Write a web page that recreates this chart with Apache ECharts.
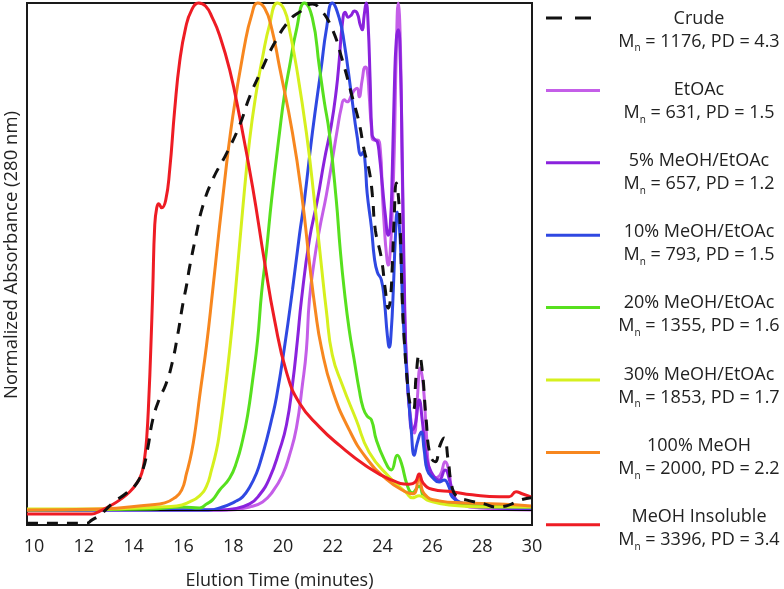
<!DOCTYPE html>
<html><head><meta charset="utf-8">
<script src="https://cdn.jsdelivr.net/npm/echarts@6/dist/echarts.min.js"></script>
<style>html,body{margin:0;padding:0;background:#fff}#c{width:784px;height:589px}</style>
</head><body><div id="c"></div>
<script>
// ---- data (elution time in minutes, normalized absorbance) ----
const xTickLabels = [10, 12, 14, 16, 18, 20, 22, 24, 26, 28, 30];

const seriesNames = ['Crude', 'EtOAc', '5% MeOH/EtOAc', '10% MeOH/EtOAc', '20% MeOH/EtOAc', '30% MeOH/EtOAc', '100% MeOH', 'MeOH Insoluble'];
const mnValues = [1176, 631, 657, 793, 1355, 1853, 2000, 3396];
const pdValues = ['4.3', '1.5', '1.2', '1.5', '1.6', '1.7', '2.2', '3.4'];

const crude = [[9.72,-0.026],[12.12,-0.026],[12.32,-0.020],[12.65,-0.010],[13.17,0.014],[13.73,0.034],[14.13,0.053],[14.37,0.079],[14.57,0.122],[14.77,0.178],[15.05,0.221],[15.29,0.247],[15.53,0.286],[15.77,0.345],[15.97,0.404],[16.13,0.444],[16.25,0.479],[16.53,0.546],[16.77,0.598],[17.17,0.651],[17.74,0.704],[18.26,0.759],[18.66,0.815],[19.14,0.868],[19.66,0.921],[20.26,0.966],[20.66,0.982],[21.18,0.998],[21.46,0.990],[21.94,0.953],[22.38,0.888],[22.78,0.815],[23.06,0.763],[23.26,0.710],[23.47,0.667],[23.59,0.621],[23.71,0.552],[23.95,0.497],[24.11,0.434],[24.23,0.398],[24.31,0.414],[24.39,0.483],[24.47,0.582],[24.55,0.645],[24.63,0.621],[24.71,0.552],[24.79,0.414],[24.87,0.335],[24.99,0.256],[25.11,0.207],[25.23,0.197],[25.35,0.266],[25.47,0.306],[25.59,0.276],[25.75,0.178],[25.91,0.108],[26.11,0.095],[26.31,0.128],[26.47,0.142],[26.63,0.099],[26.79,0.045],[26.99,0.026],[27.35,0.020],[28.08,0.012],[28.56,0.006],[28.96,0.008],[29.28,0.014],[29.56,0.020],[29.96,0.024]];

const etoac = [[9.72,0],[17.86,0],[18.66,0.006],[19.18,0.016],[19.58,0.036],[19.98,0.069],[20.26,0.108],[20.54,0.162],[20.78,0.247],[20.94,0.316],[21.06,0.414],[21.26,0.493],[21.46,0.552],[21.74,0.621],[21.98,0.690],[22.18,0.750],[22.34,0.793],[22.46,0.809],[22.58,0.805],[22.74,0.817],[22.86,0.828],[22.98,0.832],[23.06,0.815],[23.18,0.848],[23.30,0.874],[23.38,0.868],[23.46,0.819],[23.55,0.755],[23.63,0.730],[23.79,0.730],[23.91,0.710],[23.99,0.625],[24.07,0.558],[24.15,0.507],[24.23,0.483],[24.31,0.513],[24.39,0.592],[24.47,0.710],[24.55,0.903],[24.63,1.0],[24.71,0.927],[24.79,0.671],[24.87,0.414],[24.99,0.256],[25.11,0.187],[25.27,0.152],[25.39,0.217],[25.51,0.280],[25.63,0.247],[25.75,0.158],[25.87,0.079],[26.07,0.063],[26.31,0.069],[26.51,0.095],[26.67,0.075],[26.79,0.039],[27.07,0.016],[27.88,0.004],[29.96,0.0]];

const meoh5 = [[9.72,0],[17.5,0],[17.98,0.002],[18.66,0.012],[19.06,0.030],[19.46,0.063],[19.86,0.118],[20.14,0.168],[20.38,0.247],[20.58,0.335],[20.74,0.414],[21.06,0.533],[21.38,0.611],[21.66,0.690],[21.94,0.759],[22.14,0.828],[22.26,0.888],[22.38,0.957],[22.50,0.982],[22.62,0.972],[22.74,0.976],[22.86,0.984],[22.98,0.980],[23.10,0.957],[23.18,0.947],[23.26,0.976],[23.34,1.0],[23.42,0.957],[23.50,0.848],[23.58,0.740],[23.70,0.730],[23.79,0.726],[23.87,0.700],[23.99,0.641],[24.11,0.582],[24.23,0.542],[24.31,0.562],[24.39,0.671],[24.47,0.828],[24.55,0.927],[24.63,0.947],[24.71,0.888],[24.79,0.690],[24.87,0.454],[24.95,0.296],[25.07,0.207],[25.19,0.158],[25.31,0.168],[25.47,0.217],[25.59,0.178],[25.75,0.108],[25.95,0.075],[26.27,0.059],[26.51,0.079],[26.71,0.055],[26.87,0.026],[27.27,0.010],[29.96,0.002]];

const meoh10 = [[9.72,0],[17.0,0],[17.57,0.006],[18.06,0.016],[18.38,0.026],[18.66,0.045],[18.94,0.073],[19.14,0.103],[19.34,0.138],[19.54,0.178],[19.74,0.223],[20.06,0.321],[20.38,0.434],[20.66,0.542],[20.86,0.611],[21.18,0.744],[21.54,0.874],[21.74,0.947],[21.98,1.0],[22.26,0.970],[22.46,0.921],[22.74,0.822],[22.98,0.736],[23.14,0.700],[23.22,0.706],[23.30,0.684],[23.38,0.625],[23.55,0.558],[23.67,0.497],[23.79,0.469],[23.95,0.454],[24.07,0.414],[24.19,0.345],[24.27,0.321],[24.35,0.355],[24.43,0.434],[24.51,0.533],[24.59,0.588],[24.67,0.562],[24.75,0.483],[24.83,0.375],[24.99,0.256],[25.15,0.158],[25.27,0.108],[25.39,0.132],[25.55,0.154],[25.67,0.118],[25.79,0.079],[25.99,0.065],[26.27,0.055],[26.47,0.059],[26.67,0.045],[26.79,0.026],[27.19,0.014],[27.88,0.006],[29.96,0.004]];

const meoh20 = [[9.72,0],[14.65,0.002],[15.97,0.006],[16.65,0.004],[16.93,0.012],[17.17,0.020],[17.45,0.039],[17.86,0.063],[18.14,0.095],[18.38,0.138],[18.58,0.187],[18.78,0.256],[18.98,0.335],[19.14,0.428],[19.34,0.513],[19.54,0.611],[19.86,0.744],[20.06,0.819],[20.26,0.874],[20.54,0.947],[20.86,1.0],[21.18,0.970],[21.46,0.874],[21.66,0.805],[21.86,0.744],[22.14,0.611],[22.30,0.513],[22.46,0.434],[22.66,0.355],[22.86,0.296],[23.06,0.237],[23.22,0.201],[23.38,0.185],[23.55,0.178],[23.75,0.138],[24.07,0.099],[24.35,0.079],[24.59,0.108],[24.75,0.093],[24.99,0.049],[25.19,0.034],[25.47,0.047],[25.67,0.026],[26.15,0.016],[27.07,0.010],[29.96,0.006]];

const meoh30 = [[9.72,0.002],[12.65,0.002],[15.05,0.006],[15.73,0.008],[16.25,0.016],[16.65,0.028],[16.93,0.047],[17.13,0.079],[17.33,0.118],[17.45,0.152],[17.65,0.226],[17.86,0.316],[18.06,0.414],[18.38,0.592],[18.66,0.730],[18.94,0.828],[19.18,0.893],[19.46,0.957],[19.78,1.0],[20.06,0.986],[20.26,0.947],[20.54,0.874],[20.94,0.744],[21.26,0.611],[21.54,0.483],[21.74,0.394],[21.98,0.306],[22.38,0.247],[22.94,0.178],[23.46,0.114],[24.27,0.065],[24.95,0.034],[25.19,0.024],[25.47,0.028],[25.87,0.018],[26.67,0.010],[28.68,0.006],[29.96,0.006]];

const meoh100 = [[9.72,0.0],[12.65,0.002],[14.65,0.010],[15.25,0.014],[15.65,0.024],[15.93,0.039],[16.13,0.073],[16.33,0.114],[16.49,0.162],[16.65,0.223],[16.93,0.325],[17.17,0.430],[17.57,0.611],[17.98,0.775],[18.46,0.917],[18.74,0.976],[18.98,1.0],[19.26,0.990],[19.54,0.951],[19.86,0.874],[20.38,0.744],[20.78,0.611],[21.06,0.489],[21.30,0.394],[21.54,0.321],[21.98,0.237],[22.66,0.158],[23.34,0.103],[24.15,0.061],[24.87,0.037],[25.23,0.032],[25.47,0.065],[25.67,0.032],[26.27,0.018],[27.27,0.014],[28.68,0.012],[29.96,0.008]];

const insoluble = [[9.72,-0.008],[12.32,-0.008],[12.65,-0.002],[13.05,0.008],[13.45,0.020],[13.85,0.036],[14.13,0.053],[14.33,0.073],[14.45,0.105],[14.53,0.144],[14.61,0.217],[14.69,0.316],[14.77,0.434],[14.85,0.562],[14.93,0.596],[15.01,0.604],[15.13,0.596],[15.29,0.611],[15.45,0.671],[15.65,0.789],[15.85,0.884],[16.09,0.951],[16.33,0.986],[16.61,1.0],[16.89,0.994],[17.17,0.970],[17.45,0.937],[17.86,0.868],[18.26,0.775],[18.78,0.637],[19.26,0.489],[19.66,0.375],[20.14,0.272],[20.66,0.211],[21.46,0.164],[22.26,0.128],[23.34,0.087],[24.27,0.061],[25.07,0.051],[25.31,0.055],[25.47,0.071],[25.63,0.053],[25.99,0.041],[26.79,0.036],[27.60,0.030],[28.68,0.026],[29.08,0.026],[29.36,0.036],[29.60,0.032],[29.96,0.026]];

const seriesData = [crude, etoac, meoh5, meoh10, meoh20, meoh30, meoh100, insoluble];

// ---- styles ----
const colors = ['#111111', '#c45ee8', '#8a22dd', '#2f48e2', '#57e01e', '#d6f01e', '#f7871f', '#ee1c24'];
const drawZ = [10, 2, 3, 4, 5, 6, 7, 8];
const FONT = 'Open Sans';

const chart = echarts.init(document.getElementById('c'), null, {renderer: 'canvas'});

const series = seriesData.map((d, i) => ({
  name: seriesNames[i],
  type: 'line',
  data: d,
  z: drawZ[i],
  showSymbol: false,
  smooth: 0.5,
  clip: false,
  lineStyle: {color: colors[i], width: 3, type: i === 0 ? [11, 9] : 'solid', cap: 'butt'},
  itemStyle: {color: colors[i]},
  markLine: i === 1 ? {
    silent: true, symbol: 'none', label: {show: false},
    lineStyle: {color: '#000', width: 1, type: 'solid'},
    data: [{yAxis: 0}]
  } : undefined
}));

const graphics = [];
seriesNames.forEach((nm, i) => {
  const ly = 18 + i * 72.4;
  const ty = 27.5 + i * 71.2;
  graphics.push({
    type: 'line',
    shape: {x1: 546, y1: ly, x2: i === 0 ? 591 : 600, y2: ly},
    style: {stroke: colors[i], lineWidth: 3, lineDash: i === 0 ? [16, 13] : null}
  });
  graphics.push({
    type: 'text', x: 699, y: ty,
    style: {
      text: '{a|' + nm + '}\n{m|M}{s|n}{m| = ' + mnValues[i] + ', PD = ' + pdValues[i] + '}',
      align: 'center', verticalAlign: 'middle',
      fill: '#222',
      rich: {
        a: {fontFamily: FONT, fontSize: 18, lineHeight: 28, fill: '#222'},
        m: {fontFamily: FONT, fontSize: 18, lineHeight: 18, verticalAlign: 'top', fill: '#222'},
        s: {fontFamily: FONT, fontSize: 10, lineHeight: 12, padding: [14, 0, 0, 0], fill: '#222'}
      }
    }
  });
});

chart.setOption({
  animation: false,
  backgroundColor: '#fff',
  textStyle: {fontFamily: FONT},
  grid: {left: 27, right: 252, top: 3, bottom: 64, outerBoundsMode: 'none', containLabel: false,
         show: true, borderColor: '#1a1a1a', borderWidth: 2, backgroundColor: 'transparent'},
  xAxis: {
    type: 'value', min: 9.72, max: 30,
    name: 'Elution Time (minutes)', nameLocation: 'middle', nameGap: 47,
    nameTextStyle: {fontFamily: FONT, fontSize: 18, color: '#222'},
    axisLine: {show: false}, axisTick: {show: false}, splitLine: {show: false},
    axisLabel: {customValues: xTickLabels, fontFamily: FONT, fontSize: 18, color: '#222', margin: 13}
  },
  yAxis: {
    type: 'value', min: -0.0296, max: 1,
    name: 'Normalized Absorbance (280 nm)', nameLocation: 'middle', nameGap: 6,
    nameTextStyle: {fontFamily: FONT, fontSize: 18.5, color: '#222', padding: [0, 0, 0, 18]},
    axisLine: {show: false}, axisTick: {show: false}, splitLine: {show: false}, axisLabel: {show: false}
  },
  series: series,
  graphic: graphics
});
</script>
</body></html>
